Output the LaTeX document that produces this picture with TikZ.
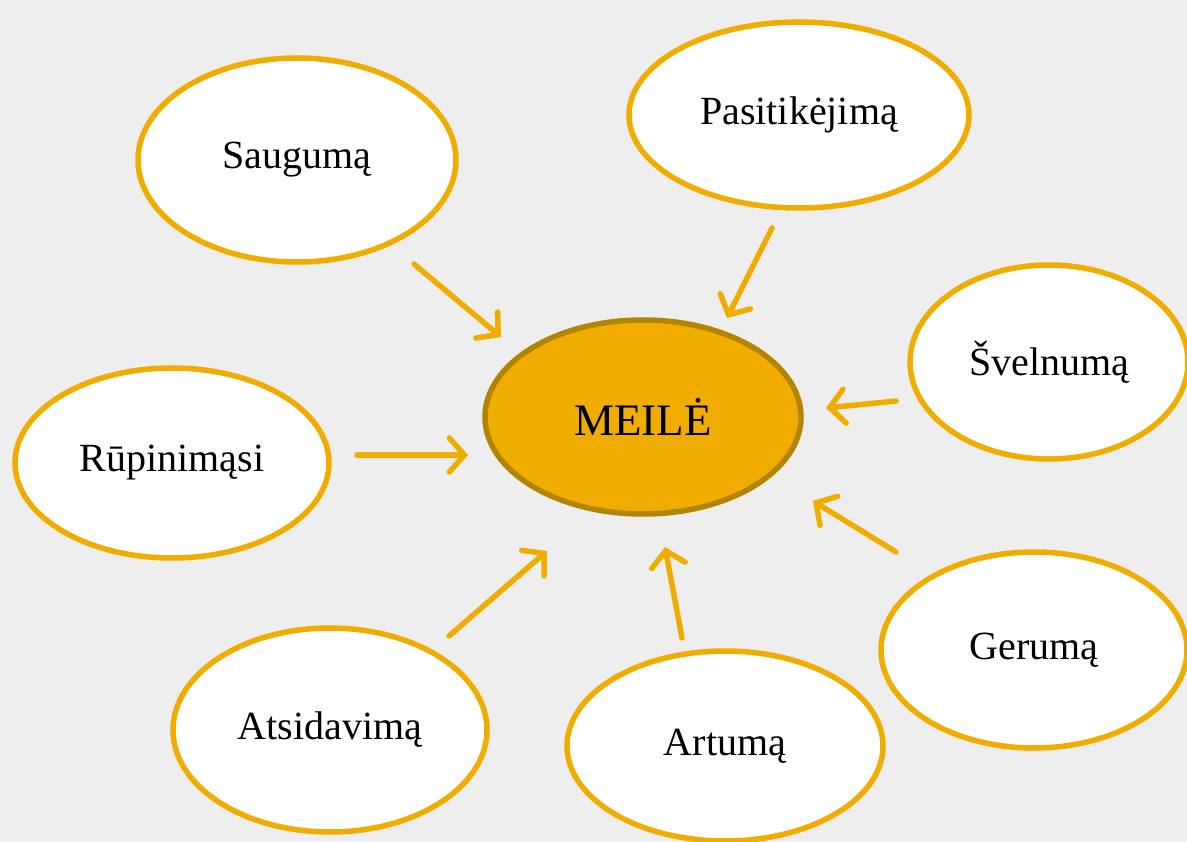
\documentclass[tikz,border=0pt]{standalone}
\usepackage{fontspec}
\setmainfont{Liberation Serif}
\usetikzlibrary{shapes.geometric,arrows.meta}
\definecolor{gold}{RGB}{240,173,0}
\definecolor{darkgold}{RGB}{178,132,0}
\definecolor{bg}{RGB}{238,238,238}
\tikzset{
  bubble/.style={ellipse, draw=gold, line width=5.5pt, fill=white, inner sep=0pt,
    font=\fontsize{40}{44}\selectfont},
  core/.style={ellipse, draw=darkgold, line width=5.5pt, fill=gold, inner sep=0pt,
    font=\fontsize{45}{50}\selectfont},
  link/.style={draw=gold, line width=5.5pt, line cap=round,
    -{Straight Barb[length=15pt,width=34pt,line cap=round,line width=5.5pt]}},
}
\begin{document}
\begin{tikzpicture}[x=1pt,y=-1pt]
\useasboundingbox (0,0) rectangle (1187,842);
\fill[bg] (0,0) rectangle (1187,842);
\begin{scope}
\clip (0,0) rectangle (1187,842);
\node[core, minimum width=316pt, minimum height=194pt] (meile) at (643,417) {MEILĖ};
\node[bubble, minimum width=318pt, minimum height=204pt] (saug) at (297,160) {Saugumą};
\node[bubble, minimum width=340pt, minimum height=186pt] (pasit) at (799,115) {Pasitikėjimą};
\node[bubble, minimum width=278pt, minimum height=194pt] (svel) at (1049,362) {Švelnumą};
\node[bubble, minimum width=314pt, minimum height=190pt] (rup) at (172,463) {Rūpinimąsi};
\node[bubble, minimum width=314pt, minimum height=204pt] (atsi) at (330,730) {Atsidavimą};
\node[bubble, minimum width=316pt, minimum height=190pt] (artu) at (725,746) {Artumą};
\node[bubble, minimum width=306pt, minimum height=196pt] (geru) at (1034,650) {Gerumą};
\end{scope}
\coordinate (s1) at (414,264); \coordinate (s2) at (501,337);
\coordinate (p1) at (772,228); \coordinate (p2) at (727,318);
\coordinate (v1) at (896,401); \coordinate (v2) at (826,408);
\coordinate (r1) at (357,455); \coordinate (r2) at (468,455);
\coordinate (g1) at (896,552); \coordinate (g2) at (813,501);
\coordinate (a1) at (682,638); \coordinate (a2) at (665,547);
\coordinate (t1) at (449,636); \coordinate (t2) at (547,551);
\draw[link] (s1) -- (s2);
\draw[link] (p1) -- (p2);
\draw[link] (v1) -- (v2);
\draw[link] (r1) -- (r2);
\draw[link] (g1) -- (g2);
\draw[link] (a1) -- (a2);
\draw[link] (t1) -- (t2);
\end{tikzpicture}
\end{document}
